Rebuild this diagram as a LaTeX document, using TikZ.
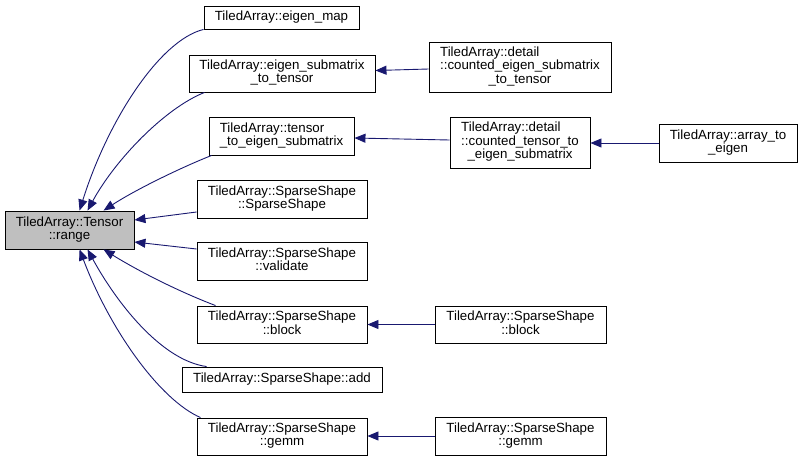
\documentclass[tikz,border=0pt]{standalone}
\usepackage{fontspec}
\setmainfont{Liberation Sans}
\usetikzlibrary{arrows.meta,calc}
\definecolor{edgeblue}{HTML}{191970}
\definecolor{hilite}{HTML}{BFBFBF}
\newcommand{\lblA}[2]{\begin{tabular}{@{}l@{}}#1\\\multicolumn{1}{@{}c@{}}{#2}\end{tabular}}
\newcommand{\lblB}[3]{\begin{tabular}{@{}l@{}}#1\\#2\\\multicolumn{1}{@{}c@{}}{#3}\end{tabular}}
\tikzset{
  fnbox/.style={draw=black, line width=0.9pt, fill=white, inner sep=0pt,
    font=\fontsize{13.3}{13.3}\selectfont, align=center},
  edge/.style={draw=edgeblue, line width=0.9pt,
    -{Triangle[length=11pt,width=9pt]}, fill=none},
}
\begin{document}
\begin{tikzpicture}[x=1pt,y=-1pt]
\useasboundingbox (0,0) rectangle (803,461);
% nodes
\node[fnbox, fill=hilite, minimum width=129, minimum height=38] (range) at (69.5,230) {\lblA{TiledArray::Tensor}{::range}};
\node[fnbox, minimum width=155, minimum height=23] (em) at (281.5,17.5) {TiledArray::eigen\_map};
\node[fnbox, minimum width=186, minimum height=37] (est) at (282,73.5) {\lblA{TiledArray::eigen\_submatrix}{\_to\_tensor}};
\node[fnbox, minimum width=145, minimum height=38] (tte) at (281.5,136) {\lblA{TiledArray::tensor}{\_to\_eigen\_submatrix}};
\node[fnbox, minimum width=170, minimum height=38] (ssc) at (282,199) {\lblA{TiledArray::SparseShape}{::SparseShape}};
\node[fnbox, minimum width=170, minimum height=38] (val) at (282,261) {\lblA{TiledArray::SparseShape}{::validate}};
\node[fnbox, minimum width=170, minimum height=37] (blk) at (282,324.5) {\lblA{TiledArray::SparseShape}{::block}};
\node[fnbox, minimum width=200, minimum height=25] (add) at (282,379.5) {TiledArray::SparseShape::add};
\node[fnbox, minimum width=170, minimum height=37] (gem) at (282,436.5) {\lblA{TiledArray::SparseShape}{::gemm}};
\node[fnbox, minimum width=182, minimum height=50] (cest) at (520,67) {\lblB{TiledArray::detail}{::counted\_eigen\_submatrix}{\_to\_tensor}};
\node[fnbox, minimum width=140, minimum height=51] (ctte) at (520,142.5) {\lblB{TiledArray::detail}{::counted\_tensor\_to}{\_eigen\_submatrix}};
\node[fnbox, minimum width=138, minimum height=38] (ate) at (728,143) {\lblA{TiledArray::array\_to}{\_eigen}};
\node[fnbox, minimum width=171, minimum height=37] (blk2) at (520.5,324.5) {\lblA{TiledArray::SparseShape}{::block}};
\node[fnbox, minimum width=171, minimum height=38] (gem2) at (520.5,436) {\lblA{TiledArray::SparseShape}{::gemm}};
% edges into range
\draw[edge] (em.south west) .. controls (160,40) and (108,120) .. ($(range.north west)+(75,0)$);
\draw[edge] ($(est.south west)+(16,0)$) .. controls (165,108) and (115,160) .. ($(range.north west)+(83,0)$);
\draw[edge] ($(tte.south west)+(3,0)$) .. controls (180,168) and (135,190) .. ($(range.north west)+(99,0)$);
\draw[edge] ($(ssc.west)+(0,13)$) -- ($(range.east)+(0,-10)$);
\draw[edge] ($(val.west)+(0,-12)$) -- ($(range.east)+(0,12)$);
\draw[edge] ($(blk.north west)+(19,0)$) .. controls (180,292) and (140,272) .. ($(range.south west)+(99,0)$);
\draw[edge] ($(add.north west)+(25,0)$) .. controls (160,360) and (115,300) .. ($(range.south west)+(83,0)$);
\draw[edge] ($(gem.north west)+(4,0)$) .. controls (160,400) and (110,330) .. ($(range.south west)+(75,0)$);
% right edges
\draw[edge] ($(cest.west)+(0,2)$) -- ($(est.east)+(0,-3)$);
\draw[edge] ($(ctte.west)+(0,-2.5)$) -- ($(tte.east)+(0,2)$);
\draw[edge] (ate.west) -- (ctte.east |- ate.west);
\draw[edge] (blk2.west) -- (blk.east);
\draw[edge] (gem2.west) -- (gem.east |- gem2.west);
\end{tikzpicture}
\end{document}
